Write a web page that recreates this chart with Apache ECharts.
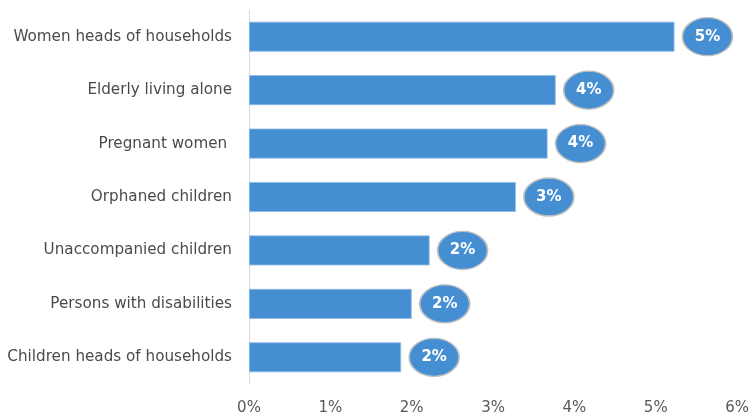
<!DOCTYPE html>
<html>
<head>
<meta charset="utf-8">
<script src="https://cdn.jsdelivr.net/npm/echarts@6/dist/echarts.min.js"></script>
<style>html,body{margin:0;padding:0;background:#fff}#c{width:752px;height:416px}</style>
</head>
<body>
<div id="c"></div>
<script>
var categories = ["Children heads of households","Persons with disabilities","Unaccompanied children","Orphaned children","Pregnant women ","Elderly living alone","Women heads of households"];
var values = [1.87, 2.0, 2.22, 3.28, 3.67, 3.77, 5.23];
var tickLabels = ["0%","1%","2%","3%","4%","5%","6%"];

var blue = '#468ED2';
var font = 'DejaVu Sans';
var chart = echarts.init(document.getElementById('c'));
chart.setOption({
  animation: false,
  grid: {left: 249, right: 12, top: 10, bottom: 31, containLabel: false},
  xAxis: {
    type: 'value', min: 0, max: 6, interval: 1,
    axisLine: {show: false}, axisTick: {show: false},
    splitLine: {show: false},
    axisLabel: {color: '#595959', fontSize: 15, fontFamily: font, margin: 17,
      formatter: function (v) { return tickLabels[Math.round(v)]; }}
  },
  yAxis: {
    type: 'category', data: categories,
    axisLine: {show: true, lineStyle: {color: '#d9d9d9', width: 1}},
    axisTick: {show: false},
    axisLabel: {color: '#4a4a4a', fontSize: 15.2, fontFamily: font, margin: 17}
  },
  series: [
    {
      type: 'bar', data: values, barCategoryGap: '44%',
      itemStyle: {color: blue, borderColor: '#8fbbe6', borderWidth: 0.8},
      z: 2
    },
    {
      type: 'scatter', data: values, symbol: 'circle', symbolSize: [50, 38],
      symbolOffset: [33, 0],
      itemStyle: {color: blue, borderColor: '#bfbfbf', borderWidth: 1.5, opacity: 1},
      label: {show: true, position: 'inside', color: '#fff', fontWeight: 'bold',
        fontSize: 15, fontFamily: font,
        formatter: function (p) { return Math.round(p.value) + '%'; }},
      z: 3
    }
  ]
});
</script>
</body>
</html>
